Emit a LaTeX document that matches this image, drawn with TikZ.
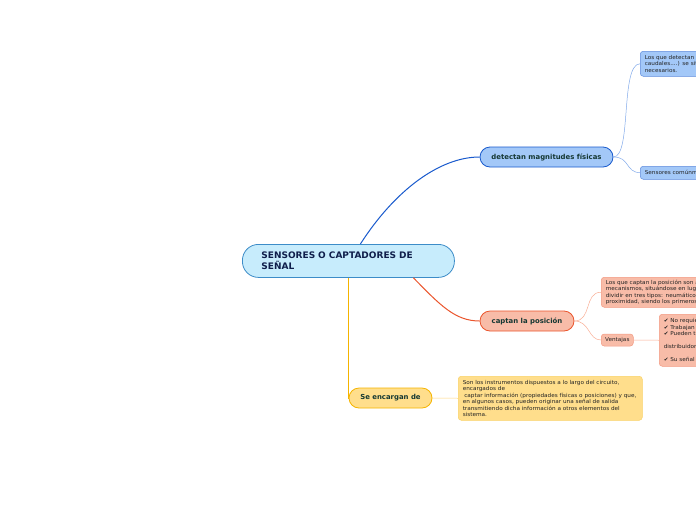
\documentclass[tikz,border=0pt]{standalone}
\usepackage{fontspec}
\setmainfont{DejaVu Sans}
\newfontfamily\leaffont{DejaVu Sans}[FakeStretch=1.06]
\definecolor{mainFill}{RGB}{199,236,252}
\definecolor{mainLine}{RGB}{60,140,200}
\definecolor{blueFill}{RGB}{163,200,248}
\definecolor{blueLine}{RGB}{25,90,205}
\definecolor{blueThin}{RGB}{130,170,235}
\definecolor{redFill}{RGB}{248,188,168}
\definecolor{redLine}{RGB}{235,85,45}
\definecolor{redThin}{RGB}{250,175,150}
\definecolor{yellowFill}{RGB}{255,222,140}
\definecolor{yellowLine}{RGB}{245,180,0}
\definecolor{yellowThin}{RGB}{255,215,120}
\definecolor{textNavy}{RGB}{15,30,75}
\definecolor{textDark}{RGB}{20,55,50}
\definecolor{textLeaf}{RGB}{35,35,35}
\tikzset{
  topic/.style={draw, rounded corners=10pt, line width=0.8pt, minimum height=20pt,
    font=\fontsize{6.9}{8}\selectfont\bfseries, text=textDark, inner sep=0pt},
  leaf/.style={draw, rounded corners=3pt, line width=0.5pt, anchor=north west,
    font=\leaffont\fontsize{5.4}{6.5}\selectfont, text=textLeaf, align=left,
    inner xsep=4.5pt, inner ysep=3pt},
}

\begin{document}
\begin{tikzpicture}[x=1pt, y=-1pt]
      \useasboundingbox (0,0) rectangle (696,520);
      \fill[white] (0,0) rectangle (696,520);
      \clip (0,0) rectangle (696,520);

      % central topic
      \node[draw=mainLine, fill=mainFill, line width=0.8pt, rounded corners=16pt,
        anchor=north west, minimum height=33pt, text width=174pt, inner xsep=19pt,
        align=left, text=textNavy, font=\fontsize{9}{11}\selectfont\bfseries]
        (main) at (242,244) {SENSORES O CAPTADORES DE\\SEÑAL};

      % main topics
      \node[topic, draw=blueLine, fill=blueFill, minimum width=133pt] (fisicas) at (546.5,157) {detectan magnitudes físicas};
      \node[topic, draw=redLine, fill=redFill, minimum width=94pt] (posicion) at (527,321) {captan la posición};
      \node[topic, draw=yellowLine, fill=yellowFill, minimum width=83pt] (encargan) at (390.5,398) {Se encargan de};

      % blue leaves
      \node[leaf, draw=blueLine!70, fill=blueFill, text width=90pt, minimum height=25pt] (fisicasA) at (640,51)
        {Los que detectan r\\caudales....) se sit\\necesarios.};
      \node[leaf, draw=blueLine!70, fill=blueFill, text width=90pt, minimum height=13pt, inner ysep=2pt] (fisicasB) at (640,166)
        {Sensores comúnm};

      % orange leaves
      \node[leaf, draw=redLine!60, fill=redFill, text width=120pt, minimum height=30pt, inner ysep=2.5pt] (posicionA) at (601,277)
        {Los que captan la posición son a\\mecanismos, situándose en luga\\dividir en tres tipos: neumáticos,\\proximidad, siendo los primeros};
      \node[leaf, draw=redLine!60, fill=redFill, anchor=west, minimum width=32pt, minimum height=12pt, inner xsep=3pt, inner ysep=1pt] (ventajas) at (601,340)
        {Ventajas};
      \node[leaf, draw=redLine!60, fill=redFill, text width=60pt, minimum height=52pt] (ventajasA) at (659,314)
        {✔ No requie\\✔ Trabajan\\✔ Pueden tr\\[6.5pt]distribuidor\\[6.5pt]✔ Su señal};

      % yellow leaf
      \node[leaf, draw=yellowLine!60, fill=yellowFill, text width=175pt, minimum height=44pt] (encarganA) at (458,376)
        {Son los instrumentos dispuestos a lo largo del circuito,\\encargados de\\\hspace{1.5pt}captar información (propiedades físicas o posiciones) y que,\\en algunos casos, pueden originar una señal de salida\\transmitiendo dicha información a otros elementos del\\sistema.};

      % connectors
      \draw[blueLine, line width=1pt] ([xshift=12pt]main.north) .. controls (395,190) and (440,157) .. (fisicas.west);
      \draw[redLine, line width=1pt] ([xshift=65pt]main.south) .. controls (440,305) and (455,321) .. (posicion.west);
      \draw[yellowLine, line width=1pt] (main.south) -- (main.south |- encargan.west) -- (encargan.west);

      \draw[blueThin, line width=0.5pt] (fisicas.east) .. controls (632,157) and (620,64) .. (fisicasA.west);
      \draw[blueThin, line width=0.5pt] (fisicas.east) .. controls (630,157) and (625,172) .. (fisicasB.west);
      \draw[redThin, line width=0.5pt] (posicion.east) .. controls (592,321) and (584,292) .. (posicionA.west);
      \draw[redThin, line width=0.5pt] (posicion.east) .. controls (590,321) and (588,340) .. (ventajas.west);
      \draw[redThin, line width=0.5pt] (ventajas.east) -- (ventajasA.west);
      \draw[yellowThin, line width=0.5pt] (encargan.east) -- (encarganA.west);
\end{tikzpicture}
\end{document}
